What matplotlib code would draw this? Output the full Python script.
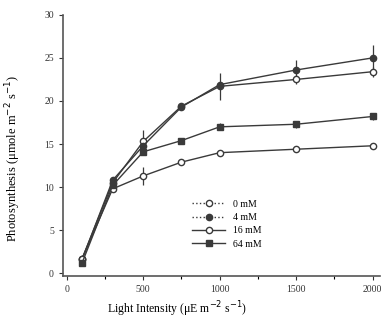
import matplotlib.pyplot as plt
from matplotlib.lines import Line2D
from matplotlib.ticker import MultipleLocator

# light intensity levels
light = [100, 300, 500, 750, 1000, 1500, 2000]

# photosynthesis rates per salt level
ps_0 = [1.7, 10.5, 15.3, 19.4, 21.7, 22.5, 23.4]
ps_4 = [1.6, 10.8, 14.8, 19.3, 21.9, 23.6, 25.0]
ps_16 = [1.7, 9.8, 11.3, 12.9, 14.0, 14.4, 14.8]
ps_64 = [1.2, 10.2, 14.1, 15.4, 17.0, 17.3, 18.2]

err_0 = [0, 0, 1.3, 0, 1.6, 0.5, 0.6]
err_4 = [0, 0, 0, 0, 0, 1.2, 1.5]
err_16 = [0, 0, 1.0, 0, 0.3, 0.3, 0.3]
err_64 = [0, 0, 0, 0, 0.4, 0.4, 0.4]

labels = ['0 mM', '4 mM', '16 mM', '64 mM']

plt.rcParams['font.family'] = ['Liberation Serif', 'DejaVu Serif']

fig = plt.figure(figsize=(3.84, 3.23), dpi=100)
ax = fig.add_axes([0.164, 0.146, 0.826, 0.808])

c = '#3a3a3a'
series = [
    (ps_0, err_0, 'o', 'white', ':'),
    (ps_4, err_4, 'o', c, ':'),
    (ps_16, err_16, 'o', 'white', '-'),
    (ps_64, err_64, 's', c, '-'),
]
for ys, es, m, fc, ls in series:
    ax.errorbar(light, ys, yerr=es, color=c, lw=1.0, marker=m, ms=4.5,
                mfc=fc, mec=c, mew=1.0, capsize=0, elinewidth=0.9)

handles = [Line2D([], [], color=c, lw=1.0, ls=ls, marker=m, ms=4.5, mfc=fc, mec=c)
           for _, _, m, fc, ls in series]
ax.legend(handles, labels, loc='lower left', bbox_to_anchor=(0.38, 0.07),
          frameon=False, fontsize=7, handlelength=3.4, labelspacing=0.45,
          handletextpad=0.8)

ax.set_xlim(-25, 2050)
ax.set_ylim(-0.3, 30)
ax.xaxis.set_major_locator(MultipleLocator(500))
ax.xaxis.set_minor_locator(MultipleLocator(250))
ax.yaxis.set_major_locator(MultipleLocator(5))
ax.spines['top'].set_visible(False)
ax.spines['right'].set_visible(False)
for s in ('left', 'bottom'):
    ax.spines[s].set_color('#555555')
    ax.spines[s].set_linewidth(1.2)
ax.tick_params(labelsize=7, colors='#333333', length=3, width=0.8)
ax.tick_params(which='minor', length=2, width=0.8)

ax.set_xlabel('Light Intensity (\u03bcE m$^{-2}$ s$^{-1}$)', fontsize=8.5)
ax.xaxis.set_label_coords(0.36, -0.09)
ax.set_ylabel('Photosynthesis (\u03bcmole m$^{-2}$ s$^{-1}$)', fontsize=9)
ax.yaxis.set_label_coords(-0.125, 0.45)

fig.savefig('out.png', dpi=100)
